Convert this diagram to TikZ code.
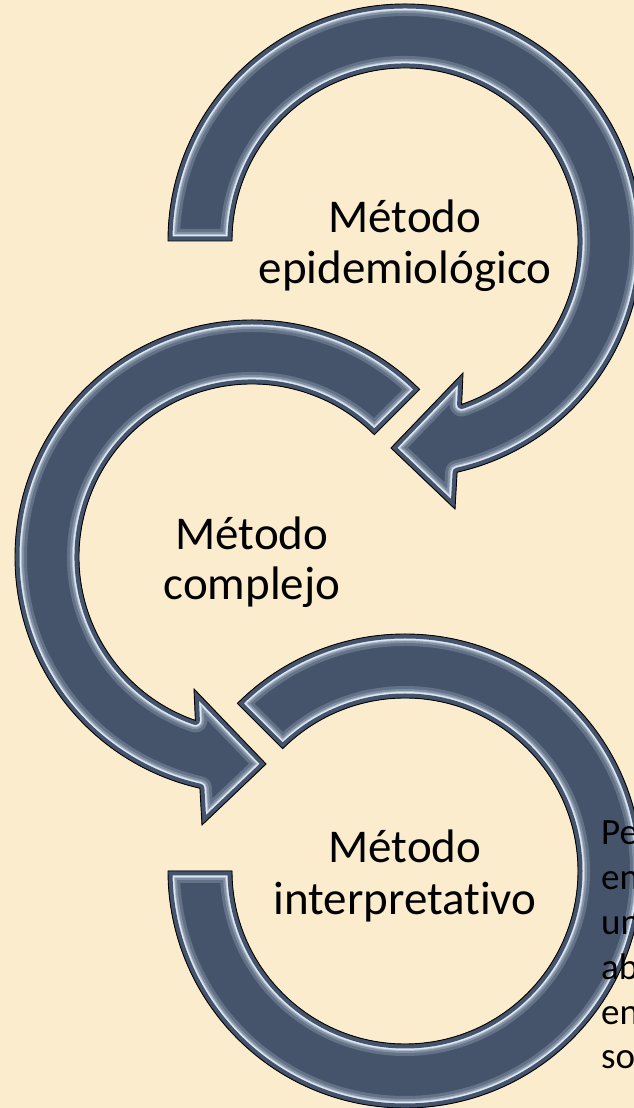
\documentclass[tikz,border=0pt]{standalone}
\usepackage{fontspec}
\setmainfont{Carlito}[Ligatures=NoCommon]
\definecolor{bg}{RGB}{250,236,205}
\definecolor{ringfill}{RGB}{69,84,107}
\definecolor{hl}{RGB}{222,233,247}
\tikzset{
  lbl/.style={font=\fontsize{47}{52}\selectfont, inner sep=0pt, anchor=base, text=black},
  side/.style={font=\fontsize{37}{45}\selectfont, inner sep=0pt, anchor=base west, text=black},
  ringedge/.style={draw=black, line width=0.9pt, line join=miter},
  bev/.style={line join=round},
}
\def\pathA{(180:237pt) arc[start angle=180,end angle=-77.3,radius=237pt] -- (50,-268) -- (-14,-207) -- (58,-132) -- (-70.9:173pt) arc[start angle=-70.9,end angle=180,radius=173pt] -- cycle}
\def\pathB{(45:237pt) arc[start angle=45,end angle=257.3,radius=237pt] -- (-50,-268) -- (14,-207) -- (-58,-132) -- (250.9:173pt) arc[start angle=250.9,end angle=45,radius=173pt] -- cycle}
\def\pathC{(135:237pt) arc[start angle=135,end angle=-180,radius=237pt] -- (180:173pt) arc[start angle=-180,end angle=135,radius=173pt] -- cycle}
\newcommand\bevelring[2]{%
  \begin{scope}[shift={#1}]
    \begin{scope}
      \clip #2;
      \fill[ringfill] #2;
      \draw[bev, line width=24pt, ringfill!80!hl] #2;
      \draw[bev, line width=18pt, ringfill!60!hl] #2;
      \draw[bev, line width=14pt, ringfill!30!hl] #2;
      \draw[bev, line width=12pt, hl] #2;
      \draw[bev, line width=9pt, ringfill] #2;
    \end{scope}
    \path[ringedge] #2;
  \end{scope}}
\begin{document}
\begin{tikzpicture}[x=1pt,y=1pt]
  \useasboundingbox (0,0) rectangle (634,1108);
  \fill[bg] (0,0) rectangle (634,1108);
  \clip (0,0) rectangle (634,1108);
  % rings
  \bevelring{(405,867)}{\pathA}
  \bevelring{(252,551)}{\pathB}
  \bevelring{(405,237)}{\pathC}
  % labels
  \node[lbl] (l1a) at (405,875) {Método};
  \node[lbl] (l1b) at (405,824) {epidemiológico};
  \node[lbl] (l2a) at (252,558) {Método};
  \node[lbl] (l2b) at (252,508) {complejo};
  \node[lbl] (l3a) at (405,245) {Método};
  \node[lbl] (l3b) at (405,193) {interpretativo};
  % truncated side text
  \node[side] (s1) at (601,263) {Pe};
  \node[side] (s2) at (601,218) {en};
  \node[side] (s3) at (601,173) {un};
  \node[side] (s4) at (601,128) {ab};
  \node[side] (s5) at (601,83) {en};
  \node[side] (s6) at (601,39) {so};
\end{tikzpicture}
\end{document}
